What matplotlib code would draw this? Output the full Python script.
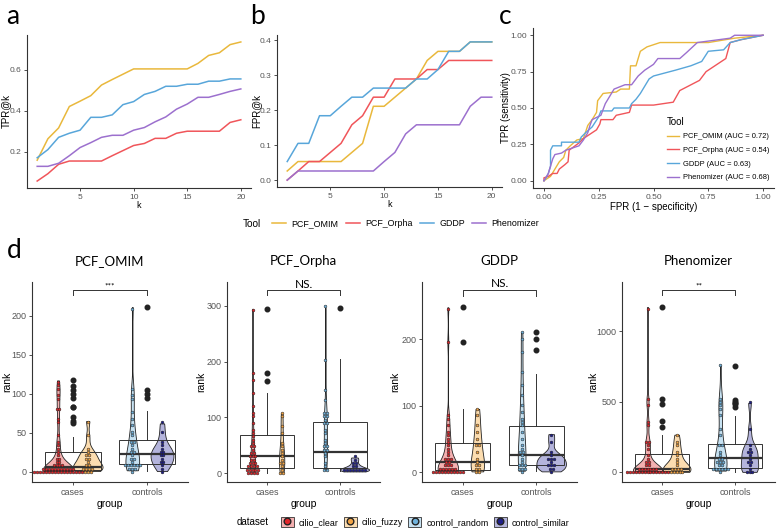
import numpy as np
import matplotlib
matplotlib.use("Agg")
import matplotlib.pyplot as plt
from matplotlib.lines import Line2D
from matplotlib.patches import Patch

plt.rcParams["font.family"] = ["Liberation Sans", "DejaVu Sans"]
W, H = 777, 531
fig = plt.figure(figsize=(W / 100, H / 100), dpi=100)

TOOLS = ["PCF_OMIM", "PCF_Orpha", "GDDP", "Phenomizer"]
TOOL_COLORS = ["#E9B83C", "#F0555A", "#58A6DA", "#9C70CE"]
AUC = ["0.72", "0.54", "0.63", "0.68"]

# panel a/b: TPR@k and FPR@k
k = list(range(1, 21))
tpr_omim = [0.158, 0.263, 0.316, 0.421, 0.447, 0.474, 0.526, 0.553, 0.579, 0.605, 0.605, 0.605, 0.605, 0.605, 0.605, 0.632, 0.671, 0.684, 0.724, 0.737]
tpr_orpha = [0.056, 0.092, 0.138, 0.154, 0.154, 0.154, 0.154, 0.180, 0.205, 0.230, 0.240, 0.265, 0.265, 0.290, 0.300, 0.300, 0.300, 0.300, 0.343, 0.356]
tpr_gddp = [0.170, 0.210, 0.270, 0.290, 0.305, 0.368, 0.368, 0.380, 0.430, 0.445, 0.480, 0.495, 0.520, 0.520, 0.530, 0.530, 0.545, 0.545, 0.556, 0.556]
tpr_phen = [0.128, 0.128, 0.143, 0.180, 0.220, 0.244, 0.270, 0.280, 0.280, 0.305, 0.318, 0.346, 0.370, 0.408, 0.433, 0.466, 0.466, 0.480, 0.495, 0.507]

fpr_omim = [0.026, 0.053, 0.053, 0.053, 0.053, 0.053, 0.079, 0.105, 0.211, 0.211, 0.237, 0.263, 0.289, 0.342, 0.368, 0.368, 0.368, 0.395, 0.395, 0.395]
fpr_orpha = [0.0, 0.026, 0.053, 0.053, 0.079, 0.105, 0.158, 0.184, 0.237, 0.237, 0.289, 0.289, 0.289, 0.316, 0.316, 0.342, 0.342, 0.342, 0.342, 0.342]
fpr_gddp = [0.053, 0.105, 0.105, 0.184, 0.184, 0.211, 0.237, 0.237, 0.263, 0.263, 0.263, 0.263, 0.289, 0.289, 0.316, 0.368, 0.368, 0.395, 0.395, 0.395]
fpr_phen = [0.0, 0.026, 0.026, 0.026, 0.026, 0.026, 0.026, 0.026, 0.026, 0.053, 0.079, 0.132, 0.158, 0.158, 0.158, 0.158, 0.158, 0.211, 0.237, 0.237]

# panel c: ROC curves
roc_omim_x = [0, 0.02, 0.03, 0.05, 0.07, 0.09, 0.10, 0.12, 0.15, 0.18, 0.20, 0.22, 0.24, 0.245, 0.27, 0.33, 0.35, 0.39, 0.395, 0.42, 0.44, 0.47, 0.53, 0.75, 0.87, 1.0]
roc_omim_y = [0, 0.02, 0.03, 0.08, 0.13, 0.16, 0.21, 0.24, 0.28, 0.29, 0.38, 0.42, 0.47, 0.55, 0.60, 0.61, 0.63, 0.63, 0.79, 0.79, 0.89, 0.92, 0.95, 0.95, 0.98, 1.0]
roc_orpha_x = [0, 0.0, 0.02, 0.04, 0.06, 0.07, 0.095, 0.11, 0.115, 0.16, 0.18, 0.21, 0.24, 0.255, 0.26, 0.315, 0.33, 0.39, 0.40, 0.50, 0.59, 0.62, 0.71, 0.74, 0.79, 0.83, 0.85, 0.90, 1.0]
roc_orpha_y = [0, 0.02, 0.03, 0.05, 0.05, 0.08, 0.11, 0.13, 0.21, 0.26, 0.29, 0.32, 0.35, 0.39, 0.42, 0.42, 0.45, 0.47, 0.52, 0.52, 0.54, 0.62, 0.69, 0.75, 0.80, 0.84, 0.95, 0.97, 1.0]
roc_gddp_x = [0, 0.01, 0.02, 0.03, 0.03, 0.04, 0.08, 0.08, 0.16, 0.17, 0.19, 0.22, 0.25, 0.26, 0.31, 0.32, 0.39, 0.40, 0.42, 0.44, 0.46, 0.48, 0.50, 0.60, 0.67, 0.72, 0.75, 0.82, 0.85, 0.90, 1.0]
roc_gddp_y = [0, 0.02, 0.05, 0.10, 0.21, 0.24, 0.24, 0.265, 0.265, 0.30, 0.33, 0.37, 0.44, 0.48, 0.48, 0.50, 0.50, 0.53, 0.56, 0.60, 0.65, 0.70, 0.72, 0.76, 0.79, 0.82, 0.89, 0.90, 0.95, 0.97, 1.0]
roc_phen_x = [0, 0.02, 0.03, 0.04, 0.05, 0.08, 0.10, 0.16, 0.18, 0.20, 0.21, 0.22, 0.26, 0.28, 0.30, 0.32, 0.37, 0.40, 0.43, 0.46, 0.50, 0.52, 0.62, 0.65, 0.70, 0.85, 0.87, 1.0]
roc_phen_y = [0, 0.05, 0.10, 0.15, 0.18, 0.19, 0.21, 0.24, 0.28, 0.33, 0.38, 0.42, 0.45, 0.53, 0.58, 0.63, 0.66, 0.66, 0.72, 0.76, 0.80, 0.84, 0.84, 0.88, 0.95, 0.98, 1.0, 1.0]

# panel d: rank per dataset and tool
DATASETS = ["cilio_clear", "cilio_fuzzy", "control_random", "control_similar"]
DOT_COLORS = ["#E3262B", "#F3A445", "#6FB2DC", "#1E1E8A"]
VIOLIN_COLORS = ["#F4B0B0", "#FCDDB0", "#C7E2F2", "#B4B4DC"]

omim_clear = [1, 1, 1, 1, 1, 1, 1, 1, 1, 1, 2, 2, 2, 2, 2, 2, 2, 3, 3, 3, 3, 3, 4, 4, 4, 5, 5, 6, 7, 8, 9, 10, 12, 14, 16, 18, 20, 25, 30, 35, 40, 45, 62, 70, 83, 83, 95, 100, 105, 110, 117]
omim_fuzzy = [1, 2, 2, 3, 4, 5, 6, 8, 10, 12, 15, 18, 20, 22, 25, 30, 45, 65]
omim_random = [2, 3, 5, 6, 8, 8, 8, 8, 9, 10, 12, 15, 18, 20, 24, 27, 30, 35, 38, 40, 45, 50, 58, 68, 78, 95, 100, 105, 211]
omim_similar = [1, 5, 10, 12, 14, 18, 20, 22, 25, 27, 30, 33, 40, 50, 62]

orpha_clear = [1, 1, 2, 2, 3, 4, 5, 6, 8, 10, 10, 12, 14, 16, 18, 20, 22, 25, 28, 30, 32, 35, 38, 40, 45, 50, 55, 60, 65, 70, 80, 90, 100, 110, 120, 143, 165, 180, 295]
orpha_fuzzy = [1, 2, 5, 10, 15, 20, 25, 30, 35, 40, 45, 55, 70, 85, 100, 107]
orpha_random = [6, 8, 12, 20, 30, 38, 40, 42, 45, 50, 55, 60, 70, 80, 90, 92, 95, 100, 100, 105, 110, 130, 150, 205, 297]
orpha_similar = [3, 4, 5, 5, 6, 6, 7, 8, 10, 12, 15, 20, 25, 28]

gddp_clear = [1, 1, 1, 1, 1, 1, 1, 2, 2, 2, 2, 3, 3, 3, 4, 5, 6, 8, 10, 12, 14, 16, 18, 20, 22, 25, 30, 35, 40, 45, 50, 55, 60, 70, 80, 85, 196, 248]
gddp_fuzzy = [1, 2, 3, 5, 8, 10, 15, 20, 30, 38, 40, 50, 60, 70, 85, 95]
gddp_random = [2, 3, 4, 5, 8, 10, 12, 15, 20, 25, 28, 30, 35, 40, 50, 60, 70, 75, 80, 90, 100, 115, 130, 148, 183, 200, 210]
gddp_similar = [1, 3, 5, 8, 10, 12, 15, 18, 20, 22, 25, 30, 45, 57]

phen_clear = [1, 1, 1, 1, 1, 2, 2, 2, 3, 3, 4, 5, 6, 8, 10, 12, 15, 18, 20, 22, 25, 30, 40, 50, 60, 80, 100, 130, 160, 200, 215, 220, 320, 365, 480, 520, 1170]
phen_fuzzy = [1, 2, 5, 8, 10, 15, 20, 25, 30, 40, 60, 90, 120, 140, 180, 220, 265]
phen_random = [10, 12, 15, 18, 20, 25, 30, 40, 50, 60, 70, 80, 90, 100, 120, 150, 180, 200, 250, 300, 400, 460, 480, 500, 510, 755]
phen_similar = [1, 5, 10, 20, 40, 60, 80, 100, 130, 150, 150, 160, 200, 300, 490]

SIG = ["***", "NS.", "NS.", "**"]


def px_axes(x0, y0, x1, y1):
    return fig.add_axes([x0 / W, 1 - y1 / H, (x1 - x0) / W, (y1 - y0) / H])


def classic(ax, fs=6):
    for s in ["top", "right"]:
        ax.spines[s].set_visible(False)
    for s in ["left", "bottom"]:
        ax.spines[s].set_linewidth(0.8)
        ax.spines[s].set_color("#333333")
    ax.tick_params(length=2.5, width=0.6, labelsize=fs, labelcolor="#555555", color="#333333", pad=1.5)


def ylabel_at(ax, text, xpx, fs):
    # y title centred on an absolute pixel column
    bb = ax.get_position()
    ax.set_ylabel(text, fontsize=fs, va="center")
    ax.yaxis.set_label_coords((xpx / W - bb.x0) / bb.width, 0.5)


# ---- a
ax = px_axes(27, 35, 251, 188)
for vals, c in zip([tpr_omim, tpr_orpha, tpr_gddp, tpr_phen], TOOL_COLORS):
    ax.plot(k, vals, color=c, lw=1.1)
ax.set_xlim(0.05, 20.95)
ax.set_xticks([5, 10, 15, 20]); ax.set_yticks([0.2, 0.4, 0.6])
classic(ax)
ax.set_xlabel("k", fontsize=6.5, labelpad=0)
ylabel_at(ax, "TPR@k", 6, 7)

# ---- b
ax = px_axes(277, 35, 502, 187)
for vals, c in zip([fpr_omim, fpr_orpha, fpr_gddp, fpr_phen], TOOL_COLORS):
    ax.plot(k, vals, color=c, lw=1.1)
ax.set_xlim(0.05, 20.95)
ax.set_xticks([5, 10, 15, 20]); ax.set_yticks([0.0, 0.1, 0.2, 0.3, 0.4])
classic(ax)
ax.set_xlabel("k", fontsize=6.5, labelpad=0)
ylabel_at(ax, "FPR@k", 256, 7)

# ---- c
ax = px_axes(533, 28, 774, 188)
rocs = [(roc_omim_x, roc_omim_y), (roc_orpha_x, roc_orpha_y), (roc_gddp_x, roc_gddp_y), (roc_phen_x, roc_phen_y)]
for (rx, ry), c, t, a in zip(rocs, TOOL_COLORS, TOOLS, AUC):
    ax.plot(rx, ry, color=c, lw=1.0, label=f"{t} (AUC = {a})")
ax.set_xlim(-0.05, 1.05); ax.set_ylim(-0.05, 1.05)
ax.set_xticks([0, 0.25, 0.5, 0.75, 1]); ax.set_yticks([0, 0.25, 0.5, 0.75, 1])
ax.set_xticklabels(["0.00", "0.25", "0.50", "0.75", "1.00"]); ax.set_yticklabels(["0.00", "0.25", "0.50", "0.75", "1.00"])
classic(ax)
ax.set_xlabel("FPR (1 \u2212 specificity)", fontsize=7, labelpad=1)
ylabel_at(ax, "TPR (sensitivity)", 506, 7)
leg = ax.legend(title="Tool", loc="lower right", bbox_to_anchor=(1.01, 0.0), frameon=False, fontsize=5.4,
                title_fontsize=7, handlelength=1.6, labelspacing=0.85, alignment="left", handletextpad=0.6)

# tool legend row
fig.text(243 / W, 1 - 224 / H, "Tool", fontsize=7.2, va="center", ha="left")
fig.legend(handles=[Line2D([], [], color=c, lw=1.1) for c in TOOL_COLORS], labels=TOOLS, loc="center left",
           bbox_to_anchor=(264 / W, 1 - 224 / H), ncol=4, frameon=False, fontsize=6.4, handlelength=1.6,
           columnspacing=0.8, handletextpad=0.6)

# panel letters
for lbl, x, y in [("a", 6, 16), ("b", 250, 16), ("c", 499, 16), ("d", 7, 250)]:
    fig.text(x / W, 1 - y / H, lbl, fontsize=19, family=["Lato", "DejaVu Sans"], va="center", ha="left")


# ---- d
def kde(vals, grid):
    v = np.asarray(vals, float)
    n = len(v)
    q75, q25 = np.percentile(v, [75, 25])
    bw = 0.9 * min(v.std(ddof=1), (q75 - q25) / 1.34) * n ** -0.2
    z = (grid[:, None] - v[None, :]) / bw
    return np.exp(-0.5 * z ** 2).sum(1) / (n * bw * np.sqrt(2 * np.pi))


def dot_stack(vals, center, binw, step):
    v = np.asarray(vals, float)
    bins = np.round(v / binw)
    xs, ys = [], []
    for b in np.unique(bins):
        n = int((bins == b).sum())
        xs += list(center + (np.arange(n) - (n - 1) / 2) * step)
        ys += [b * binw] * n
    return xs, ys


d_sets = [
    (omim_clear, omim_fuzzy, omim_random, omim_similar),
    (orpha_clear, orpha_fuzzy, orpha_random, orpha_similar),
    (gddp_clear, gddp_fuzzy, gddp_random, gddp_similar),
    (phen_clear, phen_fuzzy, phen_random, phen_similar),
]
d_px = [(32, 188), (227, 380), (422, 577), (622, 775)]
d_ylab = [7, 201, 395, 593]
d_ylim = [(-13, 243), (-16, 343), (-15, 286), (-71, 1348)]
d_ticks = [[0, 50, 100, 150, 200], [0, 100, 200, 300], [0, 100, 200], [0, 500, 1000]]
d_bracket = [(226, 233), (319, 328), (265, 274), (1255, 1290)]
vpos = [0.8, 1.2, 1.8, 2.2]

for i in range(4):
    x0, x1 = d_px[i]
    ax = px_axes(x0, 282, x1, 482)
    sets = d_sets[i]
    grids = [np.linspace(min(s), max(s), 256) for s in sets]
    dens = [kde(s, g) for s, g in zip(sets, grids)]
    dmax = max(d.max() for d in dens)
    for s, g, d, p, vc in zip(sets, grids, dens, vpos, VIOLIN_COLORS):
        half = d / dmax * 0.2
        ax.fill_betweenx(g, p - half, p + half, facecolor=vc, edgecolor="#222222", lw=0.6, zorder=2)
    cases = list(sets[0]) + list(sets[1])
    controls = list(sets[2]) + list(sets[3])
    ax.boxplot([cases, controls], positions=[1, 2], widths=0.75, showcaps=False, patch_artist=True,
               boxprops=dict(facecolor="none", edgecolor="#333333", lw=0.7),
               medianprops=dict(color="#333333", lw=1.6),
               whiskerprops=dict(color="#333333", lw=0.7),
               flierprops=dict(marker="o", markerfacecolor="#222222", markeredgecolor="#222222", markersize=3.3),
               zorder=3)
    yr = d_ylim[i][1] - d_ylim[i][0]
    for s, p, dc in zip(sets, vpos, DOT_COLORS):
        xs, ys = dot_stack(s, p, yr / 60, 0.04)
        ax.scatter(xs, ys, s=4, c=dc, edgecolors="#222222", linewidths=0.35, zorder=4)
    b0, b1 = d_bracket[i]
    ax.plot([1, 1, 2, 2], [b0, b1, b1, b0], color="#333333", lw=0.7)
    sig_fs = 6 if "*" in SIG[i] else 8.5
    ax.text(1.5, b1 + yr * 0.004, SIG[i], ha="center", va="bottom", fontsize=sig_fs,
            family=["Lato", "DejaVu Sans"])
    ax.set_xlim(0.45, 2.55); ax.set_ylim(*d_ylim[i])
    ax.set_xticks([1, 2]); ax.set_xticklabels(["cases", "controls"])
    ax.set_yticks(d_ticks[i])
    classic(ax, fs=6.5)
    ax.set_xlabel("group", fontsize=7.5, labelpad=1.5)
    ylabel_at(ax, "rank", d_ylab[i], 7.5)
    ax.set_title(TOOLS[i], fontsize=9.5, family=["Lato", "DejaVu Sans"], pad=12)

# dataset legend row
fig.text(237 / W, 1 - 522 / H, "dataset", fontsize=7, va="center", ha="left")
handles = [(Patch(facecolor=vc, edgecolor="#333333", lw=0.6),
            Line2D([], [], marker="o", ls="", markerfacecolor=dc, markeredgecolor="#222222", markersize=4.8))
           for vc, dc in zip(VIOLIN_COLORS, DOT_COLORS)]
fig.legend(handles=handles, labels=DATASETS, loc="center left", bbox_to_anchor=(273 / W, 1 - 522 / H), ncol=4,
           frameon=False, fontsize=6.4, handlelength=1.45, handleheight=1.45, columnspacing=0.6, handletextpad=0.55)

fig.savefig("out.png", dpi=100)
